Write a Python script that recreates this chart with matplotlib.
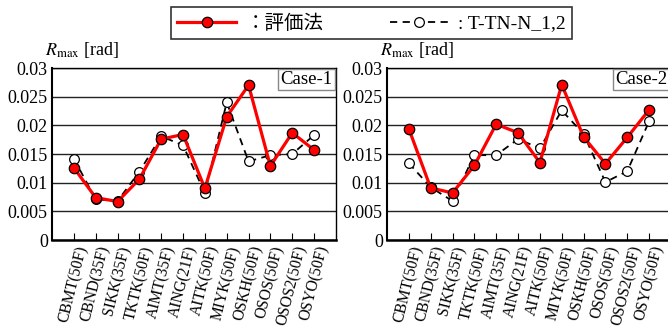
import matplotlib
matplotlib.use('Agg')
import matplotlib.pyplot as plt

plt.rcParams['font.family'] = ['Liberation Serif', 'Noto Sans CJK JP']
plt.rcParams['mathtext.fontset'] = 'stix'

labels = ['CBMT(50F)', 'CBND(35F)', 'SIKK(35F)', 'TKTK(50F)', 'AIMT(35F)', 'AING(21F)',
          'AITK(50F)', 'MIYK(50F)', 'OSKH(50F)', 'OSOS(50F)', 'OSOS2(50F)', 'OSYO(50F)']

# Case-1
c1_eval = [0.0126, 0.0074, 0.0067, 0.0106, 0.0176, 0.0184, 0.0090, 0.0215, 0.0270, 0.0129, 0.0187, 0.0157]
c1_ttn = [0.0142, 0.0071, 0.0068, 0.0119, 0.0181, 0.0165, 0.0082, 0.0240, 0.0137, 0.0148, 0.0150, 0.0183]
# Case-2
c2_eval = [0.0194, 0.0091, 0.0082, 0.0130, 0.0202, 0.0187, 0.0135, 0.0271, 0.0180, 0.0133, 0.0179, 0.0227]
c2_ttn = [0.0134, 0.0092, 0.0068, 0.0148, 0.0148, 0.0176, 0.0160, 0.0226, 0.0185, 0.0101, 0.0120, 0.0207]

fig = plt.figure(figsize=(6.68, 3.29), dpi=100)
ax1 = fig.add_axes([0.0778, 0.2705, 0.4251, 0.5228])
ax2 = fig.add_axes([0.5793, 0.2705, 0.4251, 0.5228])

x = list(range(len(labels)))
for ax, ev, tt, case in [(ax1, c1_eval, c1_ttn, 'Case-1'), (ax2, c2_eval, c2_ttn, 'Case-2')]:
    ax.plot(x, tt, color='black', lw=1.3, ls=(0, (4, 3)), marker='o', ms=7,
            mfc='white', mec='black', mew=0.9, label=': T-TN-N_1,2', zorder=3)
    ax.plot(x, ev, color='red', lw=2.3, marker='o', ms=7.5,
            mfc='red', mec='black', mew=0.9, label='：評価法', zorder=4)
    ax.set_xlim(-1, 12)
    ax.set_ylim(0, 0.03)
    ax.set_yticks([0, 0.005, 0.01, 0.015, 0.02, 0.025, 0.03])
    ax.set_yticklabels(['0', '0.005', '0.01', '0.015', '0.02', '0.025', '0.03'], fontsize=13)
    ax.yaxis.grid(True, color='#222222', lw=1.0)
    ax.set_axisbelow(True)
    ax.tick_params(axis='y', length=0, pad=3)
    ax.set_xticks(x)
    ax.set_xticklabels(labels, rotation=76, ha='center', fontsize=11.2)
    ax.tick_params(axis='x', direction='in', length=5, width=0.8, pad=3)
    for s in ax.spines.values():
        s.set_linewidth(1.0)
    ax.spines['bottom'].set_linewidth(1.8)
    ax.spines['left'].set_linewidth(1.5)
    ax.text(0.988, 0.982, case, transform=ax.transAxes, ha='right', va='top', fontsize=13.5,
            bbox=dict(boxstyle='square,pad=0.12', fc='white', ec='#888888', lw=1.0), zorder=6)
    ax.text(-0.025, 1.045, r'$R_{\mathrm{max}}$ [rad]', transform=ax.transAxes,
            ha='left', va='bottom', fontsize=13)

h, l = ax1.get_legend_handles_labels()
leg = fig.legend([h[1], h[0]], [l[1], l[0]], loc='center', bbox_to_anchor=(0.556, 0.929),
                 ncol=2, fontsize=14, frameon=True, fancybox=False, edgecolor='black',
                 handlelength=3.0, columnspacing=3.4, borderpad=0.35, handletextpad=0.5)
leg.get_frame().set_linewidth(1.2)

fig.savefig('out.png', dpi=100)
